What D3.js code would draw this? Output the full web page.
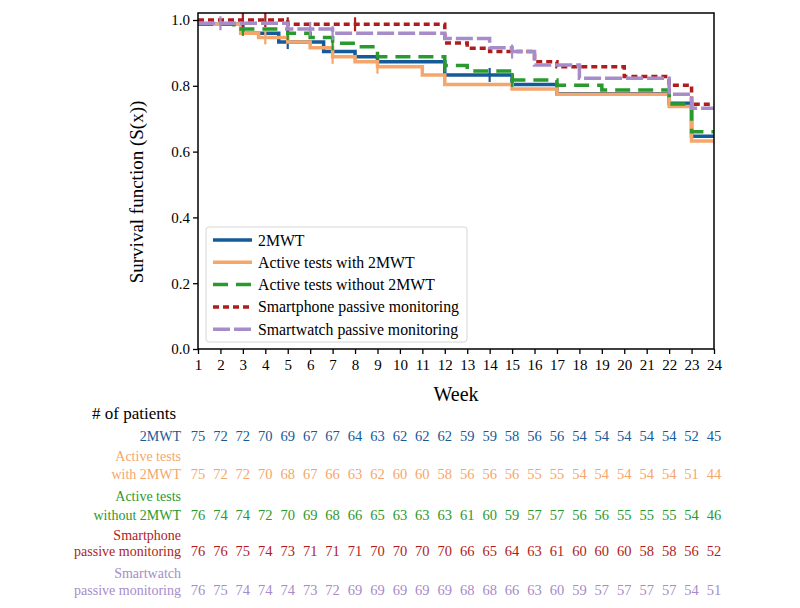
<!DOCTYPE html>
<html><head><meta charset="utf-8">
<script src="https://cdn.jsdelivr.net/npm/d3@7"></script>
<style>body{margin:0;background:#fff}svg{display:block}text{font-family:"Liberation Serif","Times New Roman",serif}</style>
</head><body><svg id="c" width="800" height="608"></svg>
<script>
const weekTicks = [1,2,3,4,5,6,7,8,9,10,11,12,13,14,15,16,17,18,19,20,21,22,23,24];
const yTicks = [0.0,0.2,0.4,0.6,0.8,1.0];
const seriesNames = ["2MWT","Active tests with 2MWT","Active tests without 2MWT","Smartphone passive monitoring","Smartwatch passive monitoring"];
const tableLabels = [["2MWT"],["Active tests","with 2MWT"],["Active tests","without 2MWT"],["Smartphone","passive monitoring"],["Smartwatch","passive monitoring"]];
const colors = ["#175a98","#f5a66b","#2a9a2e","#b01c1c","#a68cc9"];
const dashes = [null,null,"15,8","6,4","17,4"];

// step change points (week) and survival values
const t2MWT = [1,3,4.6,6.6,8,9,12,15,17,22,23];
const v2MWT = [0.987,0.96,0.933,0.904,0.888,0.873,0.833,0.804,0.776,0.747,0.647];
const tWith = [1,2.9,3.7,5,6,7,8,9,11,12,15,17,22,23];
const vWith = [0.987,0.96,0.947,0.933,0.916,0.888,0.873,0.858,0.833,0.804,0.790,0.774,0.737,0.632];
const tWithout = [1,2.6,5,6,7,8,9,12,13,15,17,19,22,23];
const vWithout = [0.987,0.973,0.960,0.947,0.929,0.919,0.888,0.862,0.845,0.818,0.802,0.787,0.745,0.66];
const tPhone = [1,5,12,13,14,16,17,20,22,23];
const vPhone = [1.0,0.987,0.930,0.914,0.904,0.873,0.858,0.828,0.802,0.744];
const tWatch = [1,5,7,12,14,15,16,18,22,23];
const vWatch = [0.99,0.973,0.960,0.944,0.916,0.904,0.863,0.823,0.774,0.732];

// censoring marks (weeks)
const c2MWT = [5,14];
const cWith = [4,7,9];
const cWithout = [3,5,7,12,15];
const cPhone = [3,4,5,8];
const cWatch = [2,6,7,15];

// number at risk
const r2MWT = [75,72,72,70,69,67,67,64,63,62,62,62,59,59,58,56,56,54,54,54,54,54,52,45];
const rWith = [75,72,72,70,68,67,66,63,62,60,60,58,56,56,56,55,55,54,54,54,54,54,51,44];
const rWithout = [76,74,74,72,70,69,68,66,65,63,63,63,61,60,59,57,57,56,56,55,55,55,54,46];
const rPhone = [76,76,75,74,73,71,71,71,70,70,70,70,66,65,64,63,61,60,60,60,58,58,56,52];
const rWatch = [76,75,74,74,74,73,72,69,69,69,69,69,68,68,66,63,60,59,57,57,57,57,54,51];

const series = [
  {t:t2MWT,v:v2MWT,c:c2MWT,r:r2MWT},
  {t:tWith,v:vWith,c:cWith,r:rWith},
  {t:tWithout,v:vWithout,c:cWithout,r:rWithout},
  {t:tPhone,v:vPhone,c:cPhone,r:rPhone},
  {t:tWatch,v:vWatch,c:cWatch,r:rWatch}
];

const svg = d3.select("#c");
const L=198,R=714,T=13,B=349;
const x = d3.scaleLinear().domain([1,24]).range([L,R]);
const y = d3.scaleLinear().domain([0,1.0213]).range([B,T]);

// axes
const xa = svg.append("g").attr("transform",`translate(0,${B})`)
  .call(d3.axisBottom(x).tickValues(weekTicks).tickFormat(d3.format("d")).tickSize(5).tickSizeOuter(0));
const ya = svg.append("g").attr("transform",`translate(${L},0)`)
  .call(d3.axisLeft(y).tickValues(yTicks).tickFormat(d3.format(".1f")).tickSize(5).tickSizeOuter(0));
[xa,ya].forEach(a=>{a.select(".domain").remove();a.selectAll("line").attr("stroke","#000").attr("stroke-width",1.3);
  a.selectAll("text").attr("font-size",15).attr("fill","#000").style("font-family","'Liberation Serif',serif");});
xa.selectAll("text").attr("dy","0.95em").attr("y",7);
ya.selectAll("text").attr("x",-8);

// lines
const line = d3.line().curve(d3.curveStepAfter).x(d=>x(d[0])).y(d=>y(d[1]));
series.forEach((s,i)=>{
  const pts = s.t.map((tt,j)=>[tt,s.v[j]]);
  pts.push([24,s.v[s.v.length-1]]);
  svg.append("path").attr("d",line(pts)).attr("fill","none").attr("stroke",colors[i])
    .attr("stroke-width",3.5).attr("stroke-dasharray",dashes[i]);
  const valAt = w => { let val=s.v[0]; s.t.forEach((tt,j)=>{ if(tt<=w) val=s.v[j]; }); return val; };
  svg.selectAll(null).data(s.c).enter().append("line")
    .attr("x1",d=>x(d)).attr("x2",d=>x(d))
    .attr("y1",d=>y(valAt(d))-7).attr("y2",d=>y(valAt(d))+7)
    .attr("stroke",colors[i]).attr("stroke-width",2.2);
});

// frame
svg.append("rect").attr("x",L).attr("y",T).attr("width",R-L).attr("height",B-T)
  .attr("fill","none").attr("stroke","#000").attr("stroke-width",1.5);

// legend
const lg = svg.append("g");
lg.append("rect").attr("x",206).attr("y",227).attr("width",261).attr("height",115).attr("rx",3)
  .attr("fill","#fff").attr("fill-opacity",0.85).attr("stroke","#d6d6d6").attr("stroke-width",1);
seriesNames.forEach((n,i)=>{
  const yy = 240 + i*22.3;
  lg.append("line").attr("x1",213).attr("x2",252).attr("y1",yy).attr("y2",yy)
    .attr("stroke",colors[i]).attr("stroke-width",3.5).attr("stroke-dasharray",dashes[i]);
  lg.append("text").attr("x",258).attr("y",yy).attr("dy","0.35em").attr("font-size",15.8).attr("fill","#000").text(n);
});

// axis titles
svg.append("text").attr("transform",`translate(143,${(T+B)/2+11}) rotate(-90)`).attr("text-anchor","middle")
  .attr("font-size",19).attr("fill","#000").text("Survival function (S(x))");
svg.append("text").attr("x",(L+R)/2).attr("y",401).attr("text-anchor","middle")
  .attr("font-size",20).attr("fill","#000").text("Week");

// at-risk table
svg.append("text").attr("x",92).attr("y",419).attr("font-size",17).attr("fill","#000").text("# of patients");
const rowY = [441,479,520,556,595];
const lineGap = [0,18,19,16,17];
series.forEach((s,i)=>{
  const labs = tableLabels[i];
  labs.forEach((lab,k)=>{
    svg.append("text").attr("x",181).attr("y",rowY[i]-(labs.length-1-k)*lineGap[i])
      .attr("text-anchor","end").attr("font-size",14).attr("fill",colors[i]).text(lab);
  });
  svg.selectAll(null).data(s.r).enter().append("text")
    .attr("x",(d,j)=>x(weekTicks[j])).attr("y",rowY[i]).attr("text-anchor","middle")
    .attr("font-size",14.5).attr("fill",colors[i]).text(d=>d);
});
</script></body></html>
